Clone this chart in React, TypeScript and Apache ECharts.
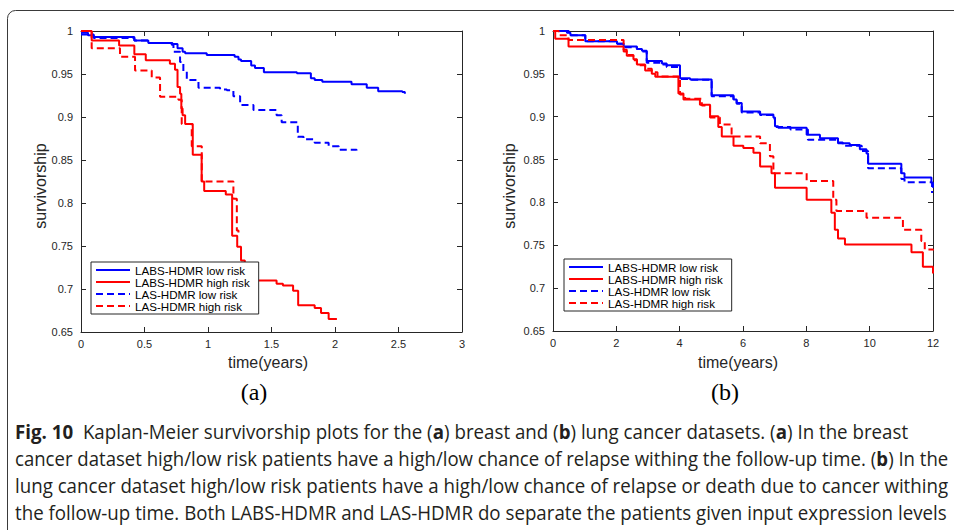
import React, { useEffect, useRef } from "react";
import * as echarts from "echarts";

// ---------- data: (a) breast cancer dataset ----------
const breastLabsLowT = [0, 0.055, 0.1, 0.42, 0.53, 0.72, 0.76, 0.8, 0.82, 0.99, 1.21, 1.24, 1.26, 1.34, 1.37, 1.44, 1.7, 1.81, 1.84, 1.9, 2.13, 2.25, 2.34, 2.53, 2.55];
const breastLabsLowS = [0.998, 0.995, 0.993, 0.989, 0.986, 0.985, 0.98, 0.976, 0.974, 0.972, 0.97, 0.967, 0.965, 0.96, 0.957, 0.952, 0.951, 0.945, 0.943, 0.941, 0.938, 0.934, 0.93, 0.929, 0.927];

const breastLabsHighT = [0, 0.084, 0.3, 0.42, 0.51, 0.7, 0.74, 0.76, 0.78, 0.79, 0.8, 0.82, 0.88, 0.95, 0.97, 1.14, 1.19, 1.23, 1.26, 1.29, 1.32, 1.54, 1.59, 1.67, 1.71, 1.84, 1.89, 1.95, 2.015];
const breastLabsHighS = [1.0, 0.989, 0.983, 0.973, 0.966, 0.962, 0.955, 0.935, 0.927, 0.91, 0.902, 0.892, 0.856, 0.825, 0.814, 0.81, 0.762, 0.749, 0.733, 0.72, 0.71, 0.706, 0.704, 0.698, 0.681, 0.678, 0.672, 0.665, 0.665];

const breastLasLowT = [0, 0.1, 0.42, 0.53, 0.714, 0.728, 0.78, 0.806, 0.833, 0.925, 1.095, 1.148, 1.2, 1.253, 1.358, 1.54, 1.58, 1.707, 1.752, 1.84, 1.95, 2.03, 2.17];
const breastLasLowS = [0.996, 0.992, 0.989, 0.986, 0.984, 0.976, 0.964, 0.953, 0.943, 0.934, 0.932, 0.931, 0.924, 0.914, 0.908, 0.902, 0.894, 0.877, 0.874, 0.87, 0.866, 0.862, 0.861];

const breastLasHighT = [0, 0.084, 0.307, 0.4255, 0.557, 0.6225, 0.767, 0.793, 0.872, 0.951, 1.2, 1.227, 1.24];
const breastLasHighS = [1.0, 0.98, 0.97, 0.954, 0.946, 0.9235, 0.92, 0.892, 0.866, 0.825, 0.805, 0.768, 0.765];

// ---------- data: (b) lung cancer dataset ----------
const lungLabsLowT = [0, 0.44, 0.55, 1.02, 2.02, 2.23, 2.65, 2.81, 2.96, 3.44, 3.59, 4.01, 4.33, 5.01, 5.7, 5.8, 5.96, 6.54, 6.96, 7.01, 7.11, 8.01, 8.43, 9.0, 9.37, 9.69, 9.9, 9.95, 11.0, 11.1, 11.95, 12.0];
const lungLabsLowS = [1.0, 0.998, 0.995, 0.988, 0.985, 0.982, 0.979, 0.977, 0.965, 0.962, 0.96, 0.945, 0.9435, 0.925, 0.92, 0.916, 0.906, 0.9026, 0.899, 0.889, 0.887, 0.879, 0.875, 0.869, 0.867, 0.862, 0.857, 0.845, 0.834, 0.829, 0.823, 0.817];

const lungLabsHighT = [0, 0.07, 0.49, 2.23, 2.33, 2.54, 2.65, 2.91, 3.12, 3.23, 3.96, 4.12, 4.64, 4.96, 5.22, 5.33, 5.7, 6.01, 6.33, 6.54, 6.9, 7.01, 8.01, 8.79, 8.9, 9.0, 9.22, 11.32, 11.68, 12.0];
const lungLabsHighS = [1.0, 0.991, 0.982, 0.976, 0.971, 0.967, 0.961, 0.954, 0.95, 0.9466, 0.927, 0.92, 0.914, 0.9006, 0.888, 0.877, 0.866, 0.8636, 0.858, 0.842, 0.834, 0.817, 0.803, 0.788, 0.768, 0.758, 0.751, 0.742, 0.725, 0.717];

const lungLasLowT = [0, 0.5, 1.02, 2.02, 2.23, 2.65, 2.81, 2.96, 3.44, 3.59, 4.01, 4.33, 5.01, 5.7, 5.8, 5.96, 6.54, 6.96, 7.01, 7.5, 8.05, 9.0, 9.15, 9.75, 9.95, 11.0, 11.1, 11.97];
const lungLasLowS = [1.0, 0.995, 0.988, 0.985, 0.981, 0.979, 0.976, 0.963, 0.961, 0.958, 0.944, 0.943, 0.924, 0.92, 0.915, 0.905, 0.902, 0.898, 0.888, 0.885, 0.873, 0.87, 0.866, 0.86, 0.84, 0.8274, 0.8235, 0.811];

const lungLasHighT = [0, 0.18, 0.49, 2.23, 2.33, 2.54, 2.65, 2.91, 3.12, 3.3, 4.01, 4.17, 4.7, 4.96, 5.27, 5.64, 6.54, 6.85, 6.96, 8.01, 8.85, 8.95, 9.9, 11.05, 11.63, 11.74, 12.0];
const lungLasHighS = [1.0, 0.995, 0.9895, 0.978, 0.972, 0.966, 0.96, 0.956, 0.952, 0.947, 0.926, 0.921, 0.913, 0.899, 0.891, 0.877, 0.869, 0.854, 0.834, 0.825, 0.803, 0.79, 0.782, 0.768, 0.755, 0.745, 0.744];

// ---------- labels ----------
const seriesNames = ["LABS-HDMR low risk", "LABS-HDMR high risk", "LAS-HDMR low risk", "LAS-HDMR high risk"];
const panelLabels = ["(a)", "(b)"];
const xAxisTitle = "time(years)";
const yAxisTitle = "survivorship";
const captionLines = [
  "{b|Fig. 10}  Kaplan-Meier survivorship plots for the ({b|a}) breast and ({b|b}) lung cancer datasets. ({b|a}) In the breast",
  "cancer dataset high/low risk patients have a high/low chance of relapse withing the follow-up time. ({b|b}) In the",
  "lung cancer dataset high/low risk patients have a high/low chance of relapse or death due to cancer withing",
  "the follow-up time. Both LABS-HDMR and LAS-HDMR do separate the patients given input expression levels",
];

const SANS = "'Liberation Sans', Arial, sans-serif";
const CAP_FONT = "'Open Sans', sans-serif";
const AXIS_COLOR = "#262626";

function measureLine(line: string, size: number): number {
  const c = document.createElement("canvas").getContext("2d");
  if (!c) return line.length * size * 0.5;
  let w = 0;
  const re = /\{b\|([^}]*)\}/g;
  let last = 0;
  let m: RegExpExecArray | null;
  while ((m = re.exec(line))) {
    c.font = `${size}px ${CAP_FONT}`;
    w += c.measureText(line.slice(last, m.index)).width;
    c.font = `bold ${size}px ${CAP_FONT}`;
    w += c.measureText(m[1]).width;
    last = m.index + m[0].length;
  }
  c.font = `${size}px ${CAP_FONT}`;
  w += c.measureText(line.slice(last)).width;
  return w;
}

export default function App() {
  const ref = useRef<HTMLDivElement>(null);
  useEffect(() => {
    if (!ref.current) return;
    const chart = echarts.init(ref.current, undefined, { renderer: "svg" });

    const grids = [
      { left: 81, top: 31, width: 381, height: 301 },
      { left: 553, top: 31, width: 380, height: 300 },
    ];
    const xRanges = [
      { min: 0, max: 3, interval: 0.5 },
      { min: 0, max: 12, interval: 2 },
    ];
    const fmt = (v: number) => String(+v.toFixed(2));

    const xAxes: any[] = [];
    const yAxes: any[] = [];
    grids.forEach((_, gi) => {
      const base = {
        type: "value",
        gridIndex: gi,
        axisLine: { show: true, onZero: false, lineStyle: { color: AXIS_COLOR, width: 1 } },
        axisTick: { show: true, inside: true, length: 5, lineStyle: { color: AXIS_COLOR } },
        splitLine: { show: false },
      };
      xAxes.push({
        ...base,
        ...xRanges[gi],
        position: "bottom",
        axisLabel: { show: true, margin: 6, color: AXIS_COLOR, fontSize: 11, fontFamily: SANS, formatter: fmt },
      });
      xAxes.push({ ...base, ...xRanges[gi], position: "top", axisLabel: { show: false } });
      const yr = { min: 0.65, max: 1, interval: 0.05 };
      yAxes.push({
        ...base,
        ...yr,
        position: "left",
        axisLabel: { show: true, margin: 8, color: AXIS_COLOR, fontSize: 11, fontFamily: SANS, formatter: fmt },
      });
      yAxes.push({ ...base, ...yr, position: "right", axisLabel: { show: false } });
    });

    const mk = (name: string, t: number[], s: number[], color: string, dashed: boolean, gi: number) => ({
      name,
      type: "line",
      step: "end",
      xAxisIndex: gi * 2,
      yAxisIndex: gi * 2,
      symbol: "none",
      showSymbol: false,
      color,
      lineStyle: { color, width: 2, type: dashed ? [7, 4] : "solid" },
      data: t.map((x, i) => [x, s[i]]),
      z: 2,
    });
    const BLUE = "#0000ff";
    const RED = "#ff0000";
    const series = [
      mk(seriesNames[0], breastLabsLowT, breastLabsLowS, BLUE, false, 0),
      mk(seriesNames[1], breastLabsHighT, breastLabsHighS, RED, false, 0),
      mk(seriesNames[2], breastLasLowT, breastLasLowS, BLUE, true, 0),
      mk(seriesNames[3], breastLasHighT, breastLasHighS, RED, true, 0),
      mk(seriesNames[0], lungLabsLowT, lungLabsLowS, BLUE, false, 1),
      mk(seriesNames[1], lungLabsHighT, lungLabsHighS, RED, false, 1),
      mk(seriesNames[2], lungLasLowT, lungLasLowS, BLUE, true, 1),
      mk(seriesNames[3], lungLasHighT, lungLasHighS, RED, true, 1),
    ];

    const legendBase = {
      orient: "vertical",
      data: seriesNames,
      itemWidth: 34,
      itemHeight: 14,
      itemGap: 0,
      padding: [2, 9, 2, 4],
      borderColor: AXIS_COLOR,
      borderWidth: 1,
      borderRadius: 0,
      backgroundColor: "#ffffff",
      selectedMode: false,
      itemStyle: { color: "rgba(0,0,0,0)", borderColor: "rgba(0,0,0,0)", borderWidth: 0, opacity: 0 },
      lineStyle: { width: 2 },
      textStyle: { fontSize: 11.6, color: "#000", fontFamily: SANS },
      z: 10,
    };

    const capSize = 20;
    const capTargets = [893, 933, 933, 933];
    const capText = captionLines.map((line, i) => {
      const w = measureLine(line, capSize);
      const sx = w > 0 ? capTargets[i] / w : 0.8;
      return {
        type: "text",
        x: 15,
        y: 431 + i * 27,
        scaleX: sx,
        style: {
          text: line,
          fill: "#231f20",
          fontSize: capSize,
          fontFamily: CAP_FONT,
          textAlign: "left",
          textVerticalAlign: "middle",
          rich: { b: { fontWeight: "bold", fontSize: capSize, fontFamily: CAP_FONT, fill: "#231f20" } },
        },
      };
    });

    const graphic: any[] = [
      {
        type: "rect",
        shape: { x: 7.5, y: 10.5, width: 980, height: 560, r: 8 },
        style: { fill: "none", stroke: "#3a3a3a", lineWidth: 1 },
        silent: true,
        z: -10,
      },
      ...[40, 509].map((x) => ({
        type: "text",
        x,
        y: 186,
        rotation: Math.PI / 2,
        style: { text: yAxisTitle, fontSize: 16, fontFamily: SANS, fill: AXIS_COLOR, textAlign: "center", textVerticalAlign: "middle" },
      })),
      ...[268, 738].map((x) => ({
        type: "text",
        x,
        y: 362,
        style: { text: xAxisTitle, fontSize: 16, fontFamily: SANS, fill: AXIS_COLOR, textAlign: "center", textVerticalAlign: "middle" },
      })),
      ...[254, 725].map((x, i) => ({
        type: "text",
        x,
        y: 392,
        style: { text: panelLabels[i], fontSize: 24, fontFamily: "'Liberation Serif', serif", fill: "#000", textAlign: "center", textVerticalAlign: "middle" },
      })),
      ...capText,
    ];

    chart.setOption({
      animation: false,
      backgroundColor: "#ffffff",
      grid: grids.map((g) => ({ ...g, containLabel: false })),
      xAxis: xAxes,
      yAxis: yAxes,
      legend: [
        { ...legendBase, left: 91, top: 262 },
        { ...legendBase, left: 564, top: 259 },
      ],
      series,
      graphic,
    });
    return () => chart.dispose();
  }, []);
  return <div ref={ref} style={{ position: "fixed", left: 0, top: 0, width: 954, height: 530, background: "#fff" }} />;
}
